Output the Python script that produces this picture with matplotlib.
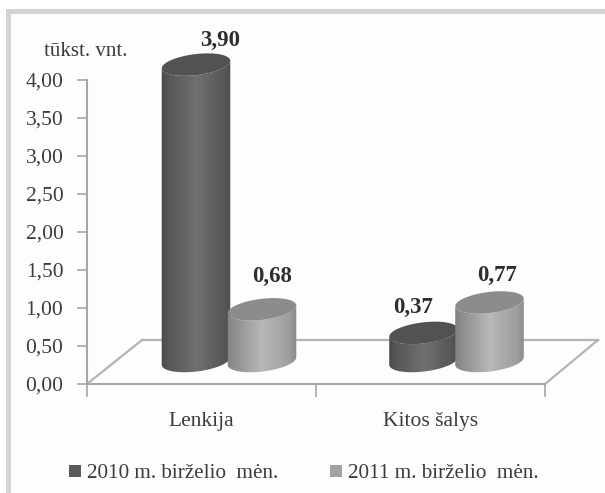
import numpy as np
import matplotlib
matplotlib.use('Agg')
import matplotlib.pyplot as plt
from matplotlib.patches import Polygon, Rectangle

categories = ['Lenkija', 'Kitos šalys']
series_names = ['2010 m. birželio  mėn.', '2011 m. birželio  mėn.']
values_2010 = [3.90, 0.37]
values_2011 = [0.68, 0.77]
value_labels_2010 = ['3,90', '0,37']
value_labels_2011 = ['0,68', '0,77']
y_ticks = [0, 0.5, 1, 1.5, 2, 2.5, 3, 3.5, 4]
y_tick_labels = ['0,00', '0,50', '1,00', '1,50', '2,00', '2,50', '3,00', '3,50', '4,00']

W, H = 605, 493
TEXT = '#3c3c3c'
AXIS = '#a6a6a6'
plt.rcParams['font.family'] = ['Liberation Serif', 'DejaVu Serif']

fig = plt.figure(figsize=(W / 100, H / 100), dpi=100, facecolor='white')
# grey frame, only top and left are visible in the scan
fig.patches.append(Rectangle((6 / W, 0), (W - 6) / W, (H - 9) / H, transform=fig.transFigure,
                             fc='#d3d3d3', ec='none', zorder=-5))
fig.patches.append(Rectangle((11 / W, 0), (W - 11) / W, (H - 14) / H, transform=fig.transFigure,
                             fc='#fdfdfd', ec='none', zorder=-4))

# plot area in pixels, the axes run a bit above 4 so the tall cylinder is not cut
left, right, top, bottom = 87, 545, 80, 384
sx = (right - left) / 2
sy = (bottom - top) / 4
y_max = 4.4
ax = fig.add_axes([left / W, 1 - bottom / H, (right - left) / W, y_max * sy / H])
ax.patch.set_alpha(0)

depth_x, depth_y = 55 / sx, 44 / sy


def cylinder(cx, val, shades, cap, label, off):
    a, b, th = 34.5, 10.5, np.radians(7)
    base = 23 / sy

    def ell(t, y0):
        px = a * np.cos(t) * np.cos(th) - b * np.sin(t) * np.sin(th)
        py = a * np.cos(t) * np.sin(th) + b * np.sin(t) * np.cos(th)
        return cx + px / sx, y0 + py / sy

    t0 = np.arctan2(-b * np.sin(th), a * np.cos(th))
    arc_low = np.linspace(t0 - np.pi, t0, 50) if np.sin(t0 - np.pi / 2) < 0 else np.linspace(t0, t0 + np.pi, 50)
    bx, by = ell(arc_low, base)
    tx, ty = ell(arc_low[::-1], base + val)
    body = Polygon(np.column_stack([np.r_[bx, tx], np.r_[by, ty]]), closed=True, fc='none', ec='none',
                   transform=ax.transData)
    ax.add_patch(body)
    grad = np.interp(np.linspace(0, 1, 200), [0, 0.12, 0.5, 0.88, 1], shades)[None, :]
    im = ax.imshow(grad, extent=[cx - 36 / sx, cx + 36 / sx, 0, y_max], cmap='gray', vmin=0, vmax=1,
                   aspect='auto', zorder=3)
    im.set_clip_path(body)
    body.set_zorder(3)
    cx_pts, cy_pts = ell(np.linspace(0, 2 * np.pi, 100), base + val)
    ax.fill(cx_pts, cy_pts, color=cap, lw=0, zorder=3, clip_on=False)
    ax.annotate(label, (cx, base + val), xytext=off, textcoords='offset pixels', ha='center', va='center',
                fontsize=16.5, fontweight='bold', color='#2e2e2e', annotation_clip=False)


# back wall line and floor edges
ax.plot([0, depth_x], [0, depth_y], color='#b4b4b4', lw=1.6, clip_on=False, zorder=1)
ax.plot([depth_x, 2 + depth_x - 2 / sx], [depth_y, depth_y], color='#b4b4b4', lw=1.6, clip_on=False, zorder=1)
ax.plot([2, 2 + depth_x - 2 / sx], [0, depth_y], color='#b4b4b4', lw=1.6, clip_on=False, zorder=1)

offs_2010 = [(24, 24), (-10, 25)]
offs_2011 = [(10, 33), (8, 27)]
shift = [0, -1.5]
dark = [0.29, 0.34, 0.44, 0.34, 0.29]
light = [0.50, 0.56, 0.72, 0.62, 0.52]
for i in range(2):
    c = i + 0.5 + depth_x / 2 + shift[i] / sx
    cylinder(c - 33 / sx, values_2010[i], dark, '#525254', value_labels_2010[i], offs_2010[i])
    cylinder(c + 33 / sx, values_2011[i], light, '#8c8c8e', value_labels_2011[i], offs_2011[i])

ax.set_xlim(0, 2)
ax.set_ylim(0, y_max)
for s in ['top', 'right']:
    ax.spines[s].set_visible(False)
for s in ['left', 'bottom']:
    ax.spines[s].set_color(AXIS)
    ax.spines[s].set_linewidth(1.5)
ax.spines['left'].set_bounds(0, 4)
ax.set_yticks(y_ticks, y_tick_labels)
ax.tick_params(axis='y', length=7, width=1.2, color=AXIS, labelsize=15.5, labelcolor=TEXT, pad=10)
ax.set_xticks([0, 1, 2], ['', '', ''])
ax.set_xticks([0.5, 1.5], categories, minor=True)
ax.tick_params(axis='x', which='major', length=9, width=1.2, color=AXIS)
ax.tick_params(axis='x', which='minor', length=0, labelsize=15.5, labelcolor=TEXT, pad=20)

fig.text(85.5 / W, 1 - 51 / H, 'tūkst. vnt.', ha='center', va='center', fontsize=15, color=TEXT)

# legend
handles = [Rectangle((0, 0), 1, 1, fc='#5a5a5c'), Rectangle((0, 0), 1, 1, fc='#a2a2a4')]
fig.legend(handles, series_names, loc='center', bbox_to_anchor=(304 / W, 1 - 474 / H), ncol=2, frameon=False,
           fontsize=15.2, labelcolor=TEXT, handlelength=0.55, handleheight=0.55, handletextpad=0.3,
           columnspacing=2.47)

fig.savefig('out.png', dpi=100)
